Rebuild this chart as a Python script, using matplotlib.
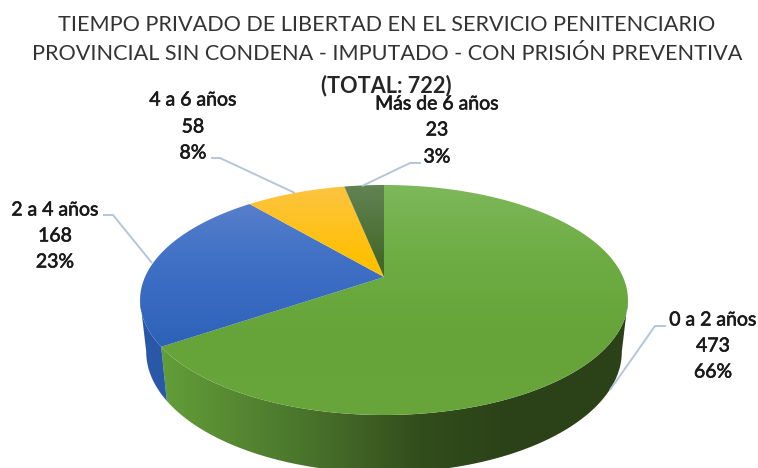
import numpy as np
import matplotlib
matplotlib.use("Agg")
import matplotlib.pyplot as plt
import matplotlib.patheffects as pe
from matplotlib.patches import Polygon
from matplotlib.colors import LinearSegmentedColormap as LSC

plt.rcParams['font.family'] = ['Lato', 'DejaVu Sans']

labels = ["0 a 2 años", "2 a 4 años", "4 a 6 años", "Más de 6 años"]
values = [473, 168, 58, 23]
percents = ["66%", "23%", "8%", "3%"]
title_lines = ["TIEMPO PRIVADO DE LIBERTAD EN EL SERVICIO PENITENCIARIO",
               "PROVINCIAL SIN CONDENA - IMPUTADO - CON PRISIÓN PREVENTIVA"]
title_total = "(TOTAL: 722)"

top_colors = [["#7db85a", "#6dac42", "#66a43a", "#68a63c"],
              ["#5f83cd", "#3f70c6", "#2f63ba", "#2e62b8"],
              ["#fdc442", "#ffc000", "#ffc000", "#ffc000"],
              ["#628354", "#43682a", "#43682a", "#43682a"]]
wall_stops = [[(0.0, "#629d38"), (0.30, "#4a742c"), (0.55, "#324d1c"), (0.72, "#2c4318"), (1.0, "#2b4118")],
              [(0.0, "#2a58a8"), (1.0, "#2a58a8")],
              [(0.0, "#b98c00"), (1.0, "#b98c00")],
              [(0.0, "#30491d"), (1.0, "#30491d")]]
label_xy = [(713, 320, 346, 372), (55, 210, 236, 262), (193, 100, 127, 153), (437, 104, 130, 157)]
leaders = [[(610, 390), (655, 326), (666, 326)],
           [(152, 263), (113, 215), (103, 215)],
           [(295, 193), (220, 158), (211, 158)],
           [(362, 186), (410, 163), (421, 163)]]

CX, PERSP = 384.0, 0.2
def top_xy(t):
    u, v = np.cos(t), np.sin(t)
    d = 1 + PERSP * v
    return CX + 239 * u / d, (277 - 55 * v) / d
def bottom_xy(t):
    u, v = np.cos(t), np.sin(t)
    d = 1 + PERSP * v
    return CX + 233 * u / d, (327.5 - 50.6 * v) / d

fig = plt.figure(figsize=(7.58, 4.68), dpi=100, facecolor="white")
ax = fig.add_axes([0, 0, 1, 1])

fracs = np.array(values, float) / sum(values)
edges = np.pi / 2 - 2 * np.pi * np.concatenate([[0], np.cumsum(fracs)])
ys = np.linspace(185, 415, 256)[:, None]
xs = np.linspace(0, 1, 256)[None, :]

# side wall: the front-facing part of each slice (up to the silhouette, where
# sin(t) = -PERSP), with a horizontal gradient
for i in range(len(values)):
    ts = np.linspace(edges[i], edges[i + 1], 600)
    ts = ts[np.sin(ts) < -PERSP + 0.005]
    if ts.size < 2:
        continue
    xt, yt = top_xy(ts)
    xb, yb = bottom_xy(ts)
    outline = np.r_[np.c_[xt, yt], np.c_[xb, yb][::-1]]
    poly = Polygon(outline, closed=True, fc="none", ec="none", zorder=2)
    ax.add_patch(poly)
    im = ax.imshow(xs, cmap=LSC.from_list("w", wall_stops[i]), extent=(165, 630, 480, 200),
                   aspect="auto", zorder=2, interpolation="bilinear")
    im.set_clip_path(poly)
    # left of the gradient's range the first colour continues
    if xb.min() < 165 or xt.min() < 165:
        im2 = ax.imshow(xs * 0, cmap=LSC.from_list("w", wall_stops[i]), vmin=0, vmax=1,
                        extent=(130, 165, 480, 200), aspect="auto", zorder=2)
        im2.set_clip_path(poly)

# top face with vertical gradients
for i in range(len(values)):
    ts = np.linspace(edges[i], edges[i + 1], 300)
    x, y = top_xy(ts)
    poly = Polygon(np.r_[[(CX, 277.0)], np.c_[x, y]], closed=True, fc="none", ec="none", zorder=3)
    ax.add_patch(poly)
    im = ax.imshow(ys, cmap=LSC.from_list("t", top_colors[i]), extent=(130, 640, 415, 185),
                   aspect="auto", zorder=3, interpolation="bilinear")
    im.set_clip_path(poly)

for pts in leaders:
    p = np.array(pts)
    ax.plot(p[:, 0], p[:, 1], color="#b5c5da", lw=1.4, zorder=4, solid_capstyle="butt")

ax.text(387, 25, title_lines[0], ha="center", va="center", fontsize=15.6, color="#333333", zorder=5)
ax.text(387, 54, title_lines[1], ha="center", va="center", fontsize=15.6, color="#333333", zorder=5)
ax.text(386, 86, title_total, ha="center", va="center", fontsize=15.6, color="#262626",
        fontweight="bold", zorder=5)

thick = [pe.withStroke(linewidth=0.45, foreground="#1a1a1a")]
for i in range(len(values)):
    x, y1, y2, y3 = label_xy[i]
    for txt, yy in zip((labels[i], str(values[i]), percents[i]), (y1, y2, y3)):
        ax.text(x, yy, txt, ha="center", va="center", fontsize=14, color="#1a1a1a",
                path_effects=thick, zorder=6)

ax.set_xlim(0, 758)
ax.set_ylim(468, 0)
ax.axis("off")
fig.savefig("out.png", dpi=100)
